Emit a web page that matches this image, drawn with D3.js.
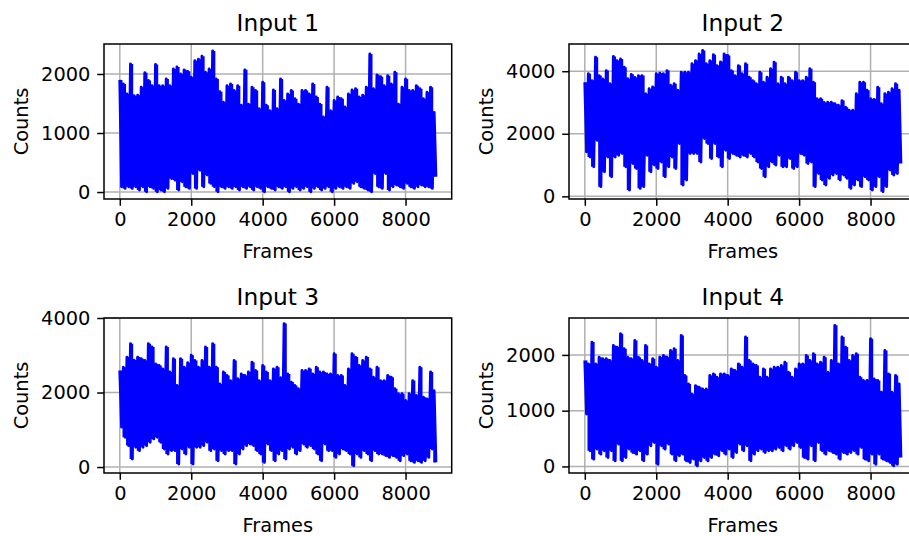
<!DOCTYPE html>
<html>
<head>
<meta charset="UTF-8">
<title>Inputs</title>
<script src="https://cdn.jsdelivr.net/npm/d3@7"></script>
<style>
  body { margin: 0; background: #fff; }
  svg { display: block; }
</style>
</head>
<body>
<div id="chart"></div>
<script>
var frames = d3.range(0, 8801, 100);
var xTicks = [0, 2000, 4000, 6000, 8000];
var yTicks1 = [0, 1000, 2000];
var yTicks2 = [0, 2000, 4000];
var yTicks3 = [0, 2000, 4000];
var yTicks4 = [0, 1000, 2000];
var titles = ["Input 1", "Input 2", "Input 3", "Input 4"];

var hi1 = [1900,1830,1660,2170,1630,1640,1775,2020,1890,1800, 2160,1800,1800,1915,1800,2085,2120,2000,2070,2045,
  1945,2225,2250,2300,2030,2085,2390,1915,1700,1520, 1800,1830,1720,1800,1470,2070,1490,1775,1720,1410,
  1860,1470,1380,1730,1410,1915,1550,1660,1720,1580, 1490,1720,1720,1660,1830,1610,1490,1270,1775,1380,
  1550,1610,1580,1440,1660,1730,1750,1610,1640,1775, 2340,1750,1985,1955,1800,1970,1830,2030,1490,1775,
  1915,1720,1720,1800,1750,1580,1690,1775,1350];
var lo1 = [90,62,90,62,90,34,90,6,90,62, 6,34,6,62,230,202,34,174,90,62,
  315,62,370,90,287,146,90,6,90,62, 90,62,90,34,90,62,90,34,90,62,
  6,90,62,34,90,62,90,6,62,90, 34,62,90,6,62,90,34,62,90,6,
  62,90,62,90,62,146,174,90,62,34, 6,315,90,62,315,34,90,118,90,62,
  146,90,62,90,118,90,90,62,258];

var hi2 = [3650,3920,3700,4450,3860,3750,4020,3600,4470,4340, 4390,4130,3760,3900,3800,3860,3860,3280,3440,3500,
  3920,3940,3920,4020,3550,3600,3390,3970,3970,3970, 4240,4340,4550,4660,4240,4340,4530,4180,4300,4550,
  4500,4020,3860,4180,3920,4240,3810,3700,3600,3970, 3650,3810,4080,4290,3600,3810,3600,3810,3700,3970,
  3700,3700,3810,4080,3650,3120,3120,3000,3010,3010, 2960,2910,3060,2850,2750,2750,3280,3650,3650,3390,
  3120,3100,3490,2960,3280,3330,3440,3600,3390];
var lo2 = [1420,1260,945,1790,310,785,1260,625,1260,1315, 1370,945,200,1050,890,255,310,1315,785,1000,
  890,1100,625,945,1260,890,1690,360,520,1370, 1370,1370,1100,1850,1690,1210,1690,1260,945,1475,
  1210,1370,1315,1260,1315,1260,1370,1260,1100,890, 625,945,1100,1000,1315,945,945,1210,890,945,
  1370,1315,1050,1100,310,730,520,360,575,680, 730,520,680,575,255,360,520,310,625,520,
  200,310,625,150,310,840,680,730,1050];

var hi3 = [2590,2680,2950,3310,2870,2950,2905,2860,3310,3220, 2770,2725,2635,3220,2550,2905,2190,2905,2680,2800,
  3000,2860,2680,2860,3220,2680,3310,2680,2230,2550, 2455,2320,2860,2370,2500,2455,2550,2815,2590,2320,
  2725,2550,2320,2635,2680,2400,3850,2500,2280,2190, 2100,2590,2590,2635,2500,2680,2550,2550,2500,2500,
  3040,2455,2455,2190,2635,3040,2950,2725,2860,2950, 2635,2410,2680,2320,2320,2455,2410,2100,1965,1965,
  1785,1965,2320,1920,2680,1875,1830,2550,2050];
var lo3 = [1070,800,575,215,530,440,530,575,665,755, 800,665,485,350,440,440,80,485,350,530,
  80,530,530,575,665,440,485,170,440,350, 440,440,80,350,485,575,620,575,440,350,
  125,620,440,170,350,440,215,485,530,350, 440,620,530,575,485,350,170,620,440,440,
  260,350,485,440,350,35,350,260,440,350, 170,440,350,350,305,260,305,260,170,305,
  350,170,125,170,125,170,260,485,125];

var hi4 = [1900,1840,2230,1840,1960,1930,1930,1900,2170,2140, 2380,2110,1960,1930,2260,1960,1900,2170,1840,1930,
  1780,1960,1990,1960,2080,2110,1900,2350,1630,1480, 1300,1450,1420,1390,1390,1630,1660,1600,1660,1660,
  1630,1750,1720,1840,1780,2320,1900,1840,1810,1600, 1750,1600,1750,1780,1780,1810,1870,1690,1600,1750,
  1840,1840,1990,1900,2020,1840,1870,1960,1690,1900, 2530,1840,2320,2140,1900,1990,2020,1600,1540,1540,
  2290,1570,1540,1330,2080,1660,1330,1630,1480];
var lo4 = [940,280,130,310,220,280,160,280,100,400, 100,160,310,250,220,280,100,220,370,430,
  40,370,310,400,220,100,190,220,100,70, 130,10,100,160,100,160,220,190,280,220,
  310,160,250,400,280,370,100,220,280,310, 250,280,280,310,340,280,370,310,370,430,
  340,160,130,370,100,430,280,220,280,250, 220,130,250,220,250,280,220,340,130,100,
  220,40,220,130,100,70,10,40,160];

var width = 909, height = 536;
var axW = 347.7, axH = 155;
var fontFamily = "'DejaVu Sans', sans-serif";
var tickFont = 19.4, titleFont = 23.3;
var tickLen = 6.8, tickPad = 6.8;
var blue = "#0000ff";

var panels = [
  {title: titles[0], hi: hi1, lo: lo1, yTicks: yTicks1, yDomain: [-118, 2508], left: 104, top: 44},
  {title: titles[1], hi: hi2, lo: lo2, yTicks: yTicks2, yDomain: [-85, 4870], left: 569, top: 44},
  {title: titles[2], hi: hi3, lo: lo3, yTicks: yTicks3, yDomain: [-160, 4000], left: 104, top: 318},
  {title: titles[3], hi: hi4, lo: lo4, yTicks: yTicks4, yDomain: [-118, 2662], left: 569, top: 318}
];

var svg = d3.select("#chart").append("svg")
  .attr("width", width)
  .attr("height", height);
svg.append("rect").attr("width", width).attr("height", height).attr("fill", "#fff");

panels.forEach(function(p, k) {
  var g = svg.append("g").attr("transform", "translate(" + p.left + "," + p.top + ")");
  var x = d3.scaleLinear().domain([-442.5, 9292]).range([0, axW]);
  var y = d3.scaleLinear().domain(p.yDomain).range([axH, 0]);

  // grid
  g.append("g").selectAll("line").data(xTicks).enter().append("line")
    .attr("x1", function(d){ return x(d); }).attr("x2", function(d){ return x(d); })
    .attr("y1", 0).attr("y2", axH)
    .attr("stroke", "#b0b0b0").attr("stroke-width", 1.5);
  g.append("g").selectAll("line").data(p.yTicks).enter().append("line")
    .attr("y1", function(d){ return y(d); }).attr("y2", function(d){ return y(d); })
    .attr("x1", 0).attr("x2", axW)
    .attr("stroke", "#b0b0b0").attr("stroke-width", 1.5);

  var clipId = "clip" + k;
  g.append("clipPath").attr("id", clipId).append("rect")
    .attr("width", axW).attr("height", axH);
  var plot = g.append("g").attr("clip-path", "url(#" + clipId + ")");

  // the dense band: each bin filled from its dip to its peak
  plot.append("path")
    .datum(frames)
    .attr("fill", blue)
    .attr("d", d3.area().curve(d3.curveStep)
      .x(function(d){ return x(d + 25); })
      .y0(function(d, i){ return y(p.lo[i]); })
      .y1(function(d, i){ return y(p.hi[i]); }));

  // series: peak then dip for every bin
  var pts = [];
  frames.forEach(function(f, i) {
    pts.push([f, p.hi[i]]);
    pts.push([f + 50, p.lo[i]]);
  });
  plot.append("path")
    .datum(pts)
    .attr("fill", "none")
    .attr("stroke", blue)
    .attr("stroke-width", 2.9)
    .attr("stroke-linejoin", "round")
    .attr("d", d3.line().x(function(d){ return x(d[0]); }).y(function(d){ return y(d[1]); }));

  // axes
  var xa = g.append("g").attr("transform", "translate(0," + axH + ")")
    .call(d3.axisBottom(x).tickValues(xTicks).tickSize(tickLen).tickPadding(tickPad).tickFormat(d3.format("d")));
  var ya = g.append("g")
    .call(d3.axisLeft(y).tickValues(p.yTicks).tickSize(tickLen).tickPadding(tickPad).tickFormat(d3.format("d")));
  [xa, ya].forEach(function(a) {
    a.select(".domain").remove();
    a.attr("font-family", fontFamily).attr("font-size", tickFont);
    a.selectAll("line").attr("stroke", "#000").attr("stroke-width", 1.5);
    a.selectAll("text").attr("fill", "#000");
  });

  // spines
  g.append("rect").attr("width", axW).attr("height", axH)
    .attr("fill", "none").attr("stroke", "#000").attr("stroke-width", 1.5);

  // labels
  g.append("text").attr("x", axW / 2).attr("y", -13.5)
    .attr("text-anchor", "middle").attr("font-family", fontFamily).attr("font-size", titleFont)
    .text(p.title);
  g.append("text").attr("x", axW / 2).attr("y", axH + 59)
    .attr("text-anchor", "middle").attr("font-family", fontFamily).attr("font-size", tickFont)
    .text("Frames");
  g.append("text")
    .attr("transform", "translate(-76," + (axH / 2) + ") rotate(-90)")
    .attr("text-anchor", "middle").attr("font-family", fontFamily).attr("font-size", tickFont)
    .text("Counts");
});
</script>
</body>
</html>
